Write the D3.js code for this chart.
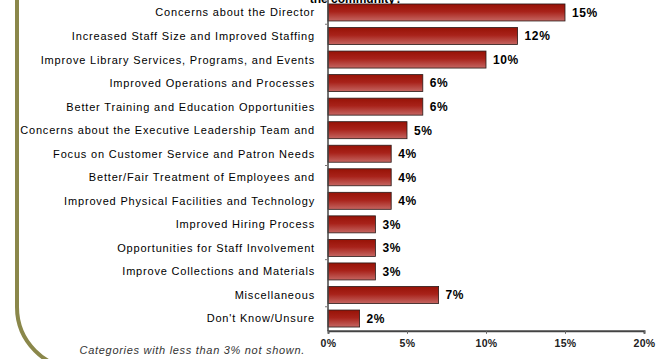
<!DOCTYPE html>
<html>
<head>
<meta charset="utf-8">
<script src="https://cdn.jsdelivr.net/npm/d3@7"></script>
<style>
  html, body { margin: 0; padding: 0; background: #fff; }
  svg { display: block; }
  text { font-family: "Liberation Sans", Arial, sans-serif; }
</style>
</head>
<body>
<svg id="chart" width="660" height="359"></svg>
<script>
// Survey responses, share of comments per theme (%)
const categories = [
  "Concerns about the Director",
  "Increased Staff Size and Improved Staffing",
  "Improve Library Services, Programs, and Events",
  "Improved Operations and Processes",
  "Better Training and Education Opportunities",
  "Concerns about the Executive Leadership Team and",
  "Focus on Customer Service and Patron Needs",
  "Better/Fair Treatment of Employees and",
  "Improved Physical Facilities and Technology",
  "Improved Hiring Process",
  "Opportunities for Staff Involvement",
  "Improve Collections and Materials",
  "Miscellaneous",
  "Don't Know/Unsure"
];
const values = [15, 12, 10, 6, 6, 5, 4, 4, 4, 3, 3, 3, 7, 2];
const xTicks = [0, 5, 10, 15, 20];
const titleText = "the community?";
const footnote = "Categories with less than 3% not shown.";

const svg = d3.select("#chart");

// gradient fill for bars: dark red on top fading lighter toward the bottom
const defs = svg.append("defs");
const grad = defs.append("linearGradient")
  .attr("id", "barGrad").attr("x1", 0).attr("y1", 0).attr("x2", 0).attr("y2", 1);
grad.append("stop").attr("offset", "0%").attr("stop-color", "#971206");
grad.append("stop").attr("offset", "45%").attr("stop-color", "#a8221a");
grad.append("stop").attr("offset", "100%").attr("stop-color", "#c56662");

// rounded olive frame on the left
svg.append("rect")
  .attr("x", 17).attr("y", -80)
  .attr("width", 760).attr("height", 449)
  .attr("rx", 62).attr("ry", 62)
  .attr("fill", "none")
  .attr("stroke", "#8a874a")
  .attr("stroke-width", 4);

const x = d3.scaleLinear().domain([0, 20]).range([328, 644]);
const y = d3.scaleBand()
  .domain(categories)
  .range([0.7, 330.3])
  .paddingInner(0.278)
  .paddingOuter(0.139);

// title (last line, mostly above the visible area)
svg.append("text")
  .attr("x", 356).attr("y", 3)
  .attr("text-anchor", "middle")
  .attr("font-size", 12).attr("font-weight", "bold")
  .attr("fill", "#000")
  .text(titleText);

// bars
const data = categories.map((c, i) => ({ c, v: values[i] }));
svg.append("g").selectAll("rect")
  .data(data).join("rect")
  .attr("x", x(0))
  .attr("y", d => y(d.c))
  .attr("width", d => x(d.v) - x(0))
  .attr("height", y.bandwidth())
  .attr("fill", "url(#barGrad)")
  .attr("stroke", "#2a1a18")
  .attr("stroke-width", 0.8);

// value labels
svg.append("g").selectAll("text")
  .data(data).join("text")
  .attr("x", d => x(d.v) + 7)
  .attr("y", d => y(d.c) + y.bandwidth() / 2)
  .attr("dy", "0.36em")
  .attr("font-size", 12).attr("font-weight", "bold")
  .attr("letter-spacing", 0.6)
  .attr("fill", "#000")
  .text(d => d.v + "%");

// category labels
svg.append("g").selectAll("text")
  .data(categories).join("text")
  .attr("x", 315)
  .attr("y", d => y(d) + y.bandwidth() / 2)
  .attr("dy", "0.36em")
  .attr("text-anchor", "end")
  .attr("font-size", 11)
  .attr("letter-spacing", 0.82)
  .attr("fill", "#000")
  .text(d => d);

// y axis line with a few minor ticks between bands
const yAxisG = svg.append("g");
yAxisG.append("line")
  .attr("x1", x(0)).attr("x2", x(0))
  .attr("y1", 0).attr("y2", y.range()[1] + 1)
  .attr("stroke", "#444").attr("stroke-width", 1.5);
[1, 7, 11, 13].forEach(i => {
  const yy = y(categories[i]) - (y.step() - y.bandwidth()) / 2;
  yAxisG.append("line")
    .attr("x1", x(0) - 3).attr("x2", x(0))
    .attr("y1", yy).attr("y2", yy)
    .attr("stroke", "#777").attr("stroke-width", 1);
});

// x axis
const xAxis = d3.axisBottom(x)
  .tickValues(xTicks)
  .tickFormat(d => d + "%")
  .tickSize(3)
  .tickPadding(6);
const xg = svg.append("g")
  .attr("transform", `translate(0,${y.range()[1] + 0.5})`)
  .call(xAxis);
xg.select(".domain").attr("stroke", "#444").attr("stroke-width", 2);
xg.selectAll(".tick line").attr("stroke", "#666");
xg.selectAll(".tick text")
  .attr("font-size", 10.5).attr("font-weight", "bold")
  .attr("letter-spacing", 0.4)
  .attr("fill", "#222")
  .attr("font-family", "Liberation Sans, Arial, sans-serif");

// footnote
svg.append("text")
  .attr("x", 305).attr("y", 354)
  .attr("text-anchor", "end")
  .attr("font-size", 11).attr("font-style", "italic")
  .attr("letter-spacing", 0.7)
  .attr("fill", "#333")
  .text(footnote);
</script>
</body>
</html>
